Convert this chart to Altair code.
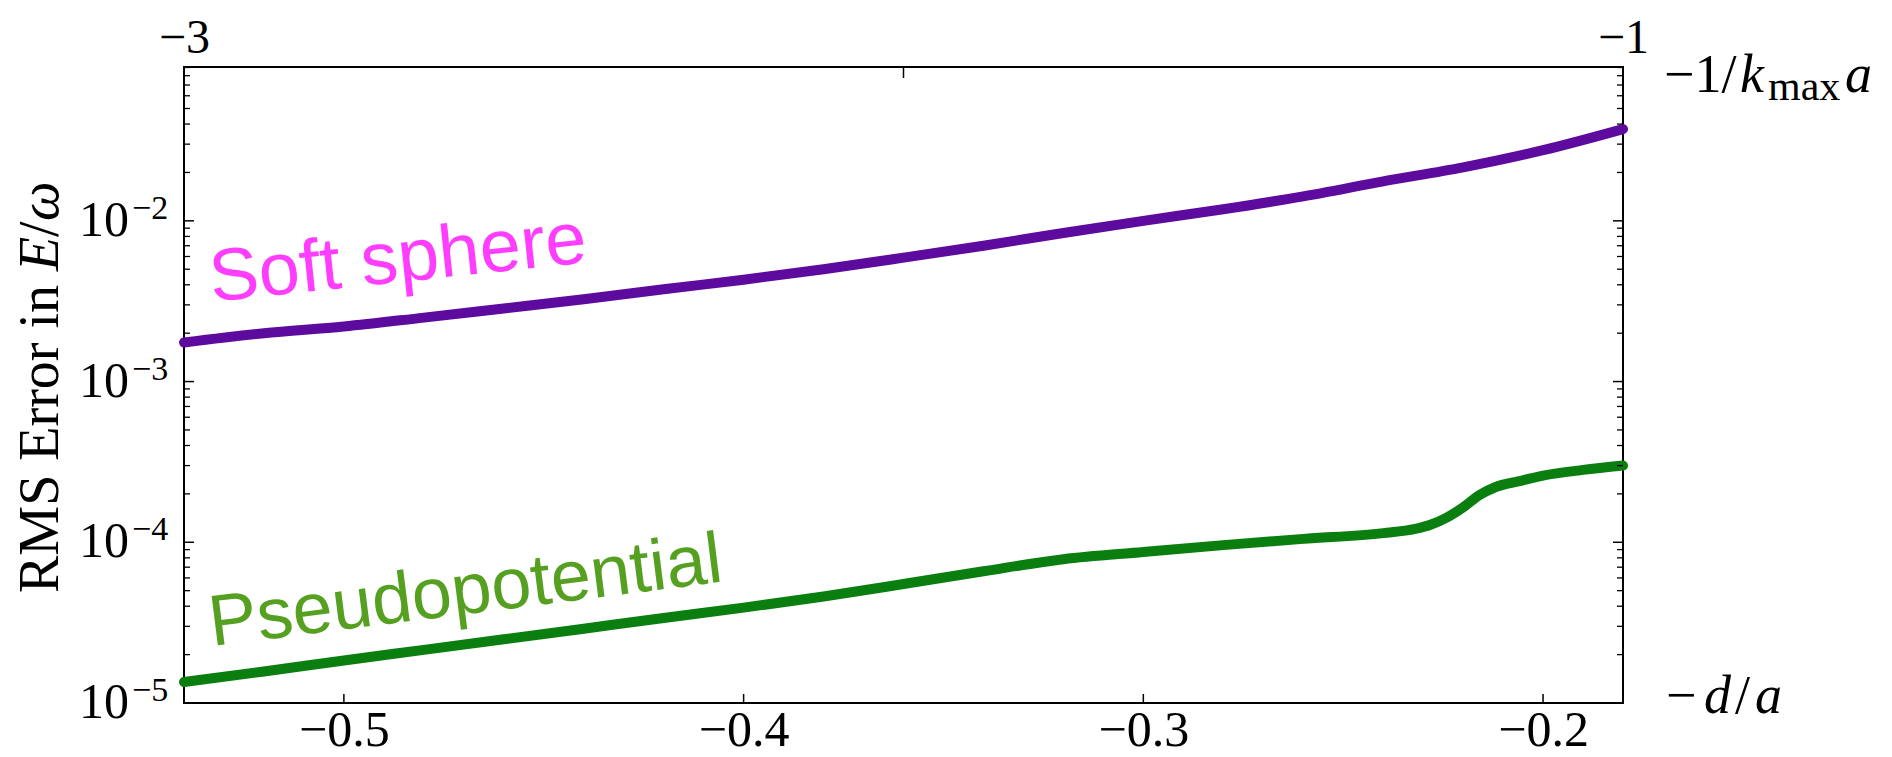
import altair as alt
import pandas as pd

# ---------------- data ----------------
soft_x = [-0.54, -0.52, -0.50, -0.48, -0.46, -0.44, -0.42, -0.40, -0.38, -0.36,
          -0.34, -0.32, -0.30, -0.28, -0.26, -0.24, -0.22, -0.20, -0.18]
soft_y = [1.75e-3, 2.0e-3, 2.2e-3, 2.5e-3, 2.85e-3, 3.25e-3, 3.75e-3, 4.3e-3, 5.0e-3, 5.9e-3,
          7.0e-3, 8.4e-3, 1.0e-2, 1.18e-2, 1.42e-2, 1.76e-2, 2.15e-2, 2.75e-2, 3.72e-2]

pseudo_x = [-0.54, -0.52, -0.50, -0.48, -0.46, -0.44, -0.42, -0.40, -0.38, -0.36,
            -0.34, -0.32, -0.30, -0.28, -0.26, -0.24, -0.232, -0.228, -0.224, -0.220,
            -0.216, -0.212, -0.206, -0.200, -0.190, -0.180]
pseudo_y = [1.35e-5, 1.57e-5, 1.84e-5, 2.14e-5, 2.49e-5, 2.9e-5, 3.38e-5, 3.92e-5, 4.6e-5, 5.5e-5,
            6.6e-5, 7.85e-5, 8.7e-5, 9.6e-5, 1.05e-4, 1.14e-4, 1.21e-4, 1.29e-4, 1.43e-4, 1.65e-4,
            1.96e-4, 2.2e-4, 2.4e-4, 2.6e-4, 2.82e-4, 3.0e-4]

bottom_tick_values = [-0.5, -0.4, -0.3, -0.2]
top_tick_values = [-3, -2, -1]
y_major = [1e-5, 1e-4, 1e-3, 1e-2]
y_exponents = ["\u22125", "\u22124", "\u22123", "\u22122"]
y_minor = [2e-5, 3e-5, 4e-5, 5e-5, 6e-5, 7e-5, 8e-5, 9e-5,
           2e-4, 3e-4, 4e-4, 5e-4, 6e-4, 7e-4, 8e-4, 9e-4,
           2e-3, 3e-3, 4e-3, 5e-3, 6e-3, 7e-3, 8e-3, 9e-3,
           2e-2, 3e-2, 4e-2, 5e-2, 6e-2, 7e-2, 8e-2, 9e-2]

soft_label = ("Soft sphere", -0.533, 3.14e-3)
pseudo_label = ("Pseudopotential", -0.533, 2.26e-5)

# ---------------- layout ----------------
W, H = 1439, 636
SERIF = "Liberation Serif"

xscale = alt.Scale(domain=[-0.54, -0.18], nice=False, zero=False)
yscale = alt.Scale(type="log", domain=[1e-5, 0.0906], nice=False)

bottom_axis = alt.Axis(values=bottom_tick_values, format=".1f", title=None, ticks=False,
                       tickSize=0, domain=False, grid=False, labelFont=SERIF,
                       labelFontSize=50, labelColor="black", labelPadding=2,
                       labelFlush=False, labelOverlap=False)

soft_df = pd.DataFrame({"x": soft_x, "y": soft_y})
pseudo_df = pd.DataFrame({"x": pseudo_x, "y": pseudo_y})

X = alt.X("x:Q", scale=xscale, axis=bottom_axis)
Y = alt.Y("y:Q", scale=yscale, axis=None)

soft_line = alt.Chart(soft_df).mark_line(
    color="#5D0A9F", strokeWidth=10, strokeCap="round", strokeJoin="round",
    interpolate="monotone").encode(x=X, y=Y)
pseudo_line = alt.Chart(pseudo_df).mark_line(
    color="#0B7E10", strokeWidth=10, strokeCap="round", strokeJoin="round",
    interpolate="monotone").encode(x=X, y=Y)

soft_text = alt.Chart(pd.DataFrame({"t": [soft_label[0]], "x": [soft_label[1]], "y": [soft_label[2]]})).mark_text(
    font="Liberation Sans", fontSize=74, color="#FF3DFF", align="left",
    baseline="alphabetic", angle=354).encode(x=X, y=Y, text="t:N")
pseudo_text = alt.Chart(pd.DataFrame({"t": [pseudo_label[0]], "x": [pseudo_label[1]], "y": [pseudo_label[2]]})).mark_text(
    font="Liberation Sans", fontSize=72, color="#55A020", align="left",
    baseline="alphabetic", angle=352.8).encode(x=X, y=Y, text="t:N")

# inward ticks
bt_df = pd.DataFrame({"x": bottom_tick_values})
bottom_ticks = alt.Chart(bt_df).mark_rule(color="black", strokeWidth=1.5).encode(
    x=X, y=alt.value(H), y2=alt.value(H - 9))

ymaj_df = pd.DataFrame({"y": y_major})
ymin_df = pd.DataFrame({"y": y_minor})
left_major = alt.Chart(ymaj_df).mark_rule(color="black", strokeWidth=1.5).encode(
    y=Y, x=alt.value(0), x2=alt.value(10))
left_minor = alt.Chart(ymin_df).mark_rule(color="black", strokeWidth=1.3).encode(
    y=Y, x=alt.value(0), x2=alt.value(6))
right_major = alt.Chart(ymaj_df).mark_rule(color="black", strokeWidth=1.5).encode(
    y=Y, x=alt.value(W), x2=alt.value(W - 10))
right_minor = alt.Chart(ymin_df).mark_rule(color="black", strokeWidth=1.3).encode(
    y=Y, x=alt.value(W), x2=alt.value(W - 6))

# y tick labels 10^n
ylab_df = pd.DataFrame({"y": y_major, "e": y_exponents, "b": ["10"] * len(y_major)})
ylab_base = alt.Chart(ylab_df).mark_text(
    font=SERIF, fontSize=50, align="right", baseline="middle", color="black").encode(
    y=Y, x=alt.value(-55), text="b:N")
ylab_exp = alt.Chart(ylab_df).mark_text(
    font=SERIF, fontSize=34, align="left", baseline="middle", color="black", dy=-12).encode(
    y=Y, x=alt.value(-52), text="e:N")

dummy = pd.DataFrame({"d": [0]})


def note(text, px, py, size, style="normal", angle=0):
    return alt.Chart(dummy).mark_text(
        text=text, font=SERIF, fontSize=size, fontStyle=style, align="left",
        baseline="alphabetic", angle=angle, color="black").encode(
        x=alt.value(px), y=alt.value(py))


notes = [
    # y axis title: RMS Error in E/ω
    note("RMS Error in", -126, 526, 56, angle=270),
    note("E", -126, 204, 56, "italic", 270),
    note("/", -126, 170, 56, angle=270),
    note("\u03c9", -126, 154, 56, "italic", 270),
    # -1/k_max a
    note("\u22121/", 1480, 25, 54),
    note("k", 1556, 25, 54, "italic"),
    note("max", 1584, 33, 42),
    note("a", 1661, 25, 54, "italic"),
    # -d/a
    note("\u2212", 1482, 646, 54),
    note("d", 1520, 646, 54, "italic"),
    note("/", 1551, 646, 54),
    note("a", 1571, 646, 54, "italic"),
]

main = alt.layer(soft_line, pseudo_line, soft_text, pseudo_text, bottom_ticks,
                 left_major, left_minor, right_major, right_minor,
                 ylab_base, ylab_exp, *notes)

top_axis = alt.Axis(orient="top", values=top_tick_values, format="d", title=None,
                    ticks=False, tickSize=0, domain=False, grid=False, labelFont=SERIF,
                    labelFontSize=48, labelColor="black", labelPadding=5,
                    labelFlush=False, labelOverlap=False)
top_layer = alt.Chart(pd.DataFrame({"k": top_tick_values})).mark_rule(
    color="black", strokeWidth=1.5).encode(
    x=alt.X("k:Q", scale=alt.Scale(domain=[-3, -1], nice=False, zero=False), axis=top_axis),
    y=alt.value(0), y2=alt.value(11))

chart = alt.layer(main, top_layer).resolve_scale(x="independent").properties(
    width=W, height=H,
    autosize=alt.AutoSizeParams(type="none"),
    padding={"left": 176, "top": 59, "right": 261, "bottom": 54},
    background="white",
).configure_view(stroke="black", strokeWidth=2)

chart.save("out.html", embed_options={"renderer": "svg", "actions": False})
